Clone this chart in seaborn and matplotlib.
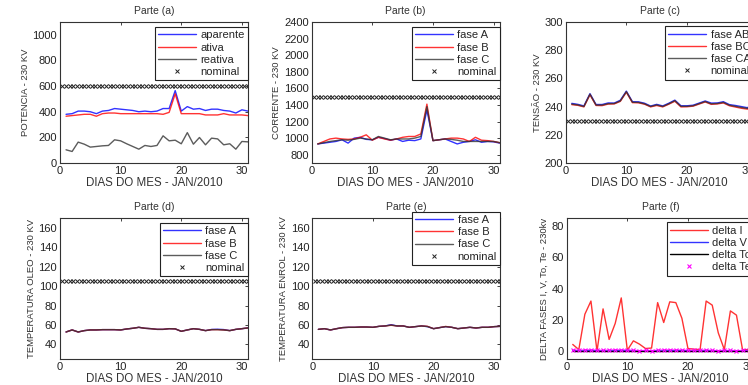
import numpy as np
import seaborn as sns
import matplotlib.pyplot as plt

sns.set_style("white")
plt.rcParams['font.family'] = ['Liberation Sans', 'DejaVu Sans']

# dias do mes
dias = list(range(1, 32))
nominal_dias = np.arange(0.4, 31.1, 0.6)

# Parte (a) - potencia
aparente = [380, 385, 405, 405, 400, 385, 405, 410, 425, 420, 415, 410, 400, 405, 400, 405,
            425, 425, 565, 405, 440, 420, 425, 410, 420, 420, 410, 405, 390, 415, 405]
ativa = [365, 370, 375, 380, 380, 365, 385, 390, 390, 385, 385, 385, 385, 385, 385, 385,
         380, 395, 540, 385, 385, 385, 385, 375, 375, 375, 385, 375, 375, 375, 370]
reativa = [103, 90, 163, 147, 124, 129, 134, 137, 181, 173, 150, 129, 108, 137, 129, 137,
           212, 173, 178, 150, 237, 147, 199, 142, 194, 188, 142, 150, 108, 168, 165]
nominal_pot = 600

# Parte (b) - corrente
corr_a = [930, 940, 950, 960, 980, 940, 1000, 1010, 985, 980, 1010, 995, 975, 990, 960, 975,
          970, 990, 1340, 970, 980, 990, 960, 930, 950, 960, 980, 950, 960, 955, 940]
corr_b = [930, 960, 990, 1000, 990, 985, 990, 1010, 1040, 975, 1010, 990, 975, 990, 1010, 1020,
          1020, 1050, 1410, 970, 980, 990, 1000, 1000, 990, 960, 1010, 975, 970, 960, 945]
corr_c = [930, 945, 960, 970, 980, 975, 985, 1000, 990, 980, 1020, 1000, 980, 990, 990, 990,
          1000, 1020, 1380, 970, 980, 990, 985, 975, 960, 960, 960, 960, 960, 960, 945]
nominal_corr = 1500

# Parte (c) - tensao
tens_ab = [242.3, 241.6, 240.5, 249.2, 241.5, 241.5, 242.6, 242.5, 244.5, 251.0, 243.5, 243.4,
           242.4, 240.4, 241.6, 240.5, 242.4, 244.6, 240.6, 240.6, 241.0, 242.5, 244.0, 242.5,
           242.6, 243.5, 241.4, 240.8, 240.0, 239.2, 243.5]
tens_bc = [241.4, 240.9, 239.8, 248.4, 240.8, 240.7, 241.8, 241.9, 243.7, 250.2, 242.8, 242.7,
           241.7, 239.8, 240.8, 239.8, 241.7, 243.8, 239.8, 239.9, 240.3, 241.8, 243.3, 241.6,
           241.9, 242.6, 240.6, 239.7, 238.8, 238.2, 242.6]
tens_ca = [241.8, 241.2, 240.1, 248.8, 241.1, 241.1, 242.1, 242.2, 244.0, 250.6, 243.1, 243.0,
           242.0, 240.1, 241.2, 240.1, 242.0, 244.2, 240.2, 240.2, 240.6, 242.1, 243.6, 242.0,
           242.2, 243.0, 241.0, 240.2, 239.4, 238.7, 243.0]
nominal_tens = 230

# Parte (d) - temperatura oleo
oleo_a = [52.8, 54.9, 52.8, 54.2, 54.9, 54.9, 55.2, 55.2, 55.2, 54.9, 55.9, 56.6, 57.6, 56.6,
          56.2, 55.5, 55.5, 56.2, 56.0, 53.5, 54.9, 56.2, 55.5, 54.2, 55.4, 55.6, 55.3, 54.2,
          55.5, 56.2, 57.0]
oleo_b = [52.8, 54.9, 52.8, 54.2, 54.9, 54.9, 55.2, 55.2, 55.2, 54.9, 55.9, 56.6, 57.6, 56.6,
          56.2, 55.5, 55.5, 56.2, 56.0, 53.5, 54.9, 56.2, 55.5, 54.2, 55.2, 55.2, 54.9, 54.2,
          55.5, 56.2, 57.0]
oleo_c = [52.8, 54.9, 52.8, 54.2, 54.9, 54.9, 55.2, 55.2, 55.2, 54.9, 55.9, 56.6, 57.6, 56.6,
          56.2, 55.5, 55.5, 56.2, 56.0, 53.5, 54.9, 56.2, 55.5, 54.2, 55.2, 55.2, 54.9, 54.2,
          55.5, 56.2, 57.0]
nominal_oleo = 105

# Parte (e) - temperatura enrolamento
enrol_a = [55.5, 56.2, 54.9, 56.2, 57.3, 57.6, 57.6, 57.9, 57.9, 57.6, 58.6, 59.0, 60.3, 59.0,
           59.0, 57.6, 58.3, 59.0, 58.3, 56.2, 57.3, 58.3, 57.6, 56.2, 56.9, 57.6, 56.9, 57.6,
           57.6, 58.3, 58.6]
enrol_b = [55.5, 56.2, 54.9, 56.2, 57.3, 57.6, 57.6, 57.9, 57.9, 57.6, 58.6, 59.0, 59.7, 59.0,
           59.0, 57.6, 58.3, 59.0, 58.6, 56.2, 57.3, 58.5, 57.6, 56.2, 56.9, 57.6, 56.9, 57.6,
           57.6, 58.3, 58.6]
enrol_c = [55.5, 56.2, 54.9, 56.2, 57.3, 57.6, 57.6, 57.9, 57.9, 57.6, 58.6, 59.0, 59.9, 59.0,
           59.0, 57.6, 58.3, 59.0, 58.4, 56.2, 57.3, 58.3, 57.6, 56.2, 56.9, 57.6, 56.9, 57.6,
           57.6, 58.3, 58.6]
nominal_enrol = 105

# Parte (f) - deltas
delta_i = [4.3, 1.0, 23.6, 32.0, 0.0, 27.0, 7.5, 17.7, 34.0, 0.6, 6.6, 4.5, 1.7, 2.0, 31.0, 18.3,
           31.5, 31.0, 21.0, 1.7, 1.3, 1.0, 32.0, 29.4, 11.7, 1.0, 25.7, 23.0, 1.0, 1.0, 8.0]
delta_v = [0.4, 0.3, 0.2, 0.5, 0.3, 0.3, 0.2, 0.3, 0.4, 0.5, 0.3, 0.2, 0.2, 0.3, 0.3, 0.2,
           0.3, 0.4, 0.3, 0.3, 0.2, 0.3, 0.4, 0.3, 0.2, 0.3, 0.3, 0.2, 0.3, 0.4, 0.3]
delta_to = [0.0] * 31
delta_te = [0.8, 0.6, 1.0, 0.9, 0.7, 0.6, 0.8, 1.0, 0.9, 0.7, 0.6, 0.4, 0.5, 0.4, 0.7, 0.9,
            1.0, 0.8, 0.9, 0.6, 0.5, 0.6, 0.8, 0.5, 0.4, 0.6, 0.5, 0.4, 0.5, 0.6, 0.7]

fig = plt.figure(figsize=(7.48, 3.85), dpi=100)

W, H = 0.2513, 0.3662
axes = {
    'a': fig.add_axes([0.0802, 0.5766, W, H]),
    'b': fig.add_axes([0.4167, 0.5766, W, H]),
    'c': fig.add_axes([0.7563, 0.5766, W, H]),
    'd': fig.add_axes([0.0802, 0.0675, W, H]),
    'e': fig.add_axes([0.4175, 0.0675, W, H]),
    'f': fig.add_axes([0.7576, 0.0675, W, H]),
}

lw = 1.0


def draw(ax, series, nominal, ylabel, ylim, yticks, title, leg_y):
    for vals, col, lab in series:
        sns.lineplot(x=dias, y=vals, color=col, lw=lw, label=lab, ax=ax, alpha=0.8)
    if nominal is not None:
        ax.plot(nominal_dias, [nominal] * len(nominal_dias), linestyle='none', marker='x',
                color='#222222', ms=2.8, mew=0.7, label='nominal')
    ax.set_xlim(0, 31)
    ax.set_ylim(*ylim)
    ax.set_xticks([0, 10, 20, 30])
    ax.set_yticks(yticks)
    ax.tick_params(direction='in', top=True, right=True, length=2.5, width=0.6,
                   labelsize=8, pad=2, colors='#222222')
    for s in ax.spines.values():
        s.set_linewidth(0.8)
        s.set_color('#333333')
    ax.set_xlabel('DIAS DO MES - JAN/2010', fontsize=8.3, labelpad=1, color='#333333')
    ax.set_ylabel(ylabel, fontsize=6.8, labelpad=2, color='#333333')
    ax.set_title(title, fontsize=7.5, pad=6, color='#333333')
    leg = ax.legend(loc='upper right', bbox_to_anchor=(1.0, leg_y), borderaxespad=0,
                    fontsize=8, frameon=True, fancybox=False, edgecolor='#222222',
                    handlelength=3.4, handletextpad=0.4, labelspacing=0.2, borderpad=0.3,
                    framealpha=1)
    leg.get_frame().set_linewidth(0.8)


draw(axes['a'], [(aparente, 'blue', 'aparente'), (ativa, 'red', 'ativa'),
                 (reativa, '#333333', 'reativa')],
     nominal_pot, 'POTENCIA - 230 KV', (0, 1100), range(0, 1001, 200), 'Parte (a)', 0.965)
draw(axes['b'], [(corr_a, 'blue', 'fase A'), (corr_b, 'red', 'fase B'),
                 (corr_c, '#333333', 'fase C')],
     nominal_corr, 'CORRENTE - 230 KV', (700, 2400), range(800, 2401, 200), 'Parte (b)', 0.965)
draw(axes['c'], [(tens_ab, 'blue', 'fase AB'), (tens_bc, 'red', 'fase BC'),
                 (tens_ca, '#333333', 'fase CA')],
     nominal_tens, 'TENSÃO - 230 KV', (200, 300), range(200, 301, 20), 'Parte (c)', 0.97)
draw(axes['d'], [(oleo_a, 'blue', 'fase A'), (oleo_b, 'red', 'fase B'),
                 (oleo_c, '#333333', 'fase C')],
     nominal_oleo, 'TEMPERATURA OLEO - 230 KV', (25, 170), range(40, 161, 20), 'Parte (d)', 0.965)
draw(axes['e'], [(enrol_a, 'blue', 'fase A'), (enrol_b, 'red', 'fase B'),
                 (enrol_c, '#333333', 'fase C')],
     nominal_enrol, 'TEMPERATURA ENROL - 230 KV', (25, 170), range(40, 161, 20), 'Parte (e)', 1.045)

axf = axes['f']
sns.lineplot(x=dias, y=delta_i, color='red', lw=lw, label='delta I', ax=axf, alpha=0.8)
sns.lineplot(x=dias, y=delta_v, color='blue', lw=lw, label='delta V', ax=axf, alpha=0.8)
sns.lineplot(x=dias, y=delta_to, color='black', lw=lw, label='delta To', ax=axf)
axf.plot(dias, delta_te, color='magenta', lw=0.8, alpha=0.7)
axf.plot(dias, delta_te, linestyle='none', marker='x', color='magenta', ms=3, mew=0.8,
         label='delta Te')
draw(axf, [], None, 'DELTA FASES I, V, To, Te - 230kv', (-5, 85), range(0, 81, 20),
     'Parte (f)', 0.97)

fig.savefig('out.png', dpi=100)
